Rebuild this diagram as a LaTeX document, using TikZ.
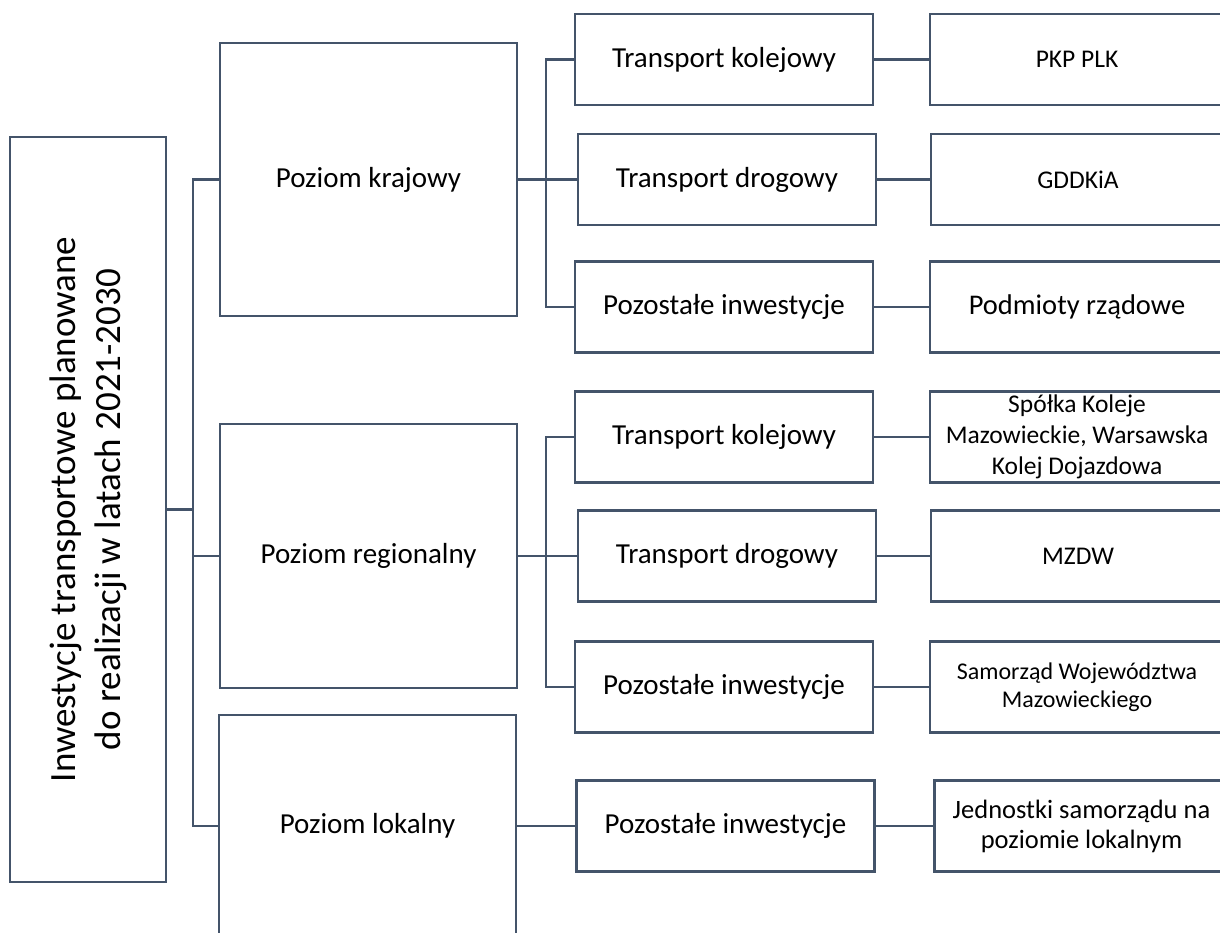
\documentclass[tikz,border=0pt]{standalone}
\usepackage{fontspec}
\setmainfont{Carlito}
\definecolor{SlateLine}{RGB}{68,84,106}
\usetikzlibrary{positioning}

\begin{document}
\begin{tikzpicture}[
    x=1pt, y=-1pt, font=\fontsize{29}{35}\selectfont, node distance=57pt,
    box/.style={draw=SlateLine, line width=2.6pt, align=center,
                inner sep=0pt, outer sep=0pt, minimum width=298pt, minimum height=91pt},
    lvl/.style={box, minimum width=297pt, minimum height=#1},
    unit/.style={box, minimum width=294pt, font=\fontsize{25.5}{31}\selectfont},
    conn/.style={SlateLine, line width=2.6pt}
  ]
    \useasboundingbox (0,0) rectangle (1220,932);
    \clip (0,0) rectangle (1220,932);

    % Root
    \node[box, minimum width=156pt, minimum height=745pt] (root) at (88,509.5) {};
    \node[rotate=90, align=center, font=\fontsize{37}{45}\selectfont] (rootlbl) at (root.center)
      {Inwestycje transportowe planowane\\do realizacji w latach 2021-2030};

    % Levels
    \node[lvl=273pt] (kraj) at (368.5,179.5) {Poziom krajowy};
    \node[lvl=264pt] (reg)  at (368.5,556)   {Poziom regionalny};
    \node[lvl=222pt] (lok)  at (367.5,826)   {Poziom lokalny};

    % Krajowy row
    \node[box] (kkol)  at (724,59.5)  {Transport kolejowy};
    \node[box] (kdrog) at (727,179.5) {Transport drogowy};
    \node[box] (kpoz)  at (724,307)   {Pozostałe inwestycje};
    \node[unit, right=of kkol]  (pkp)   {PKP PLK};
    \node[unit, right=55pt of kdrog] (gddk) {GDDKiA};
    \node[unit, right=of kpoz, font=\fontsize{28.5}{34}\selectfont] (rzad) {Podmioty rządowe};

    % Regionalny row
    \node[box] (rkol)  at (724,437) {Transport kolejowy};
    \node[box] (rdrog) at (727,556) {Transport drogowy};
    \node[box] (rpoz)  at (724,687) {Pozostałe inwestycje};
    \node[unit, right=of rkol]  (wkd)  {Spółka Koleje\\Mazowieckie, Warsawska\\Kolej Dojazdowa};
    \node[unit, right=55pt of rdrog] (mzdw) {MZDW};
    \node[unit, right=of rpoz, font=\fontsize{24}{28}\selectfont] (swm)
      {Samorząd Województwa\\Mazowieckiego};

    % Lokalny row
    \node[box] (lpoz) at (725.5,826) {Pozostałe inwestycje};
    \node[unit, right=60pt of lpoz, font=\fontsize{26.5}{30}\selectfont] (jst)
      {Jednostki samorządu na\\poziomie lokalnym};

    % Connectors
    \coordinate[right=27pt of root.east] (busA);
    \draw[conn] (root.east) -- (busA);
    \draw[conn] (busA) |- (kraj.west);
    \draw[conn] (busA) |- (reg.west);
    \draw[conn] (busA) |- (lok.west);

    \coordinate[right=29pt of kraj.east] (busK);
    \draw[conn] (kraj.east) -- (kdrog.west);
    \draw[conn] (busK) |- (kkol.west);
    \draw[conn] (busK) |- (kpoz.west);

    \coordinate[right=29pt of reg.east] (busR);
    \draw[conn] (reg.east) -- (rdrog.west);
    \draw[conn] (busR) |- (rkol.west);
    \draw[conn] (busR) |- (rpoz.west);

    \draw[conn] (lok.east) -- (lpoz.west);

    \draw[conn] (kkol.east)  -- (pkp.west);
    \draw[conn] (kdrog.east) -- (gddk.west);
    \draw[conn] (kpoz.east)  -- (rzad.west);
    \draw[conn] (rkol.east)  -- (wkd.west);
    \draw[conn] (rdrog.east) -- (mzdw.west);
    \draw[conn] (rpoz.east)  -- (swm.west);
    \draw[conn] (lpoz.east)  -- (jst.west);
  \end{tikzpicture}
\end{document}
